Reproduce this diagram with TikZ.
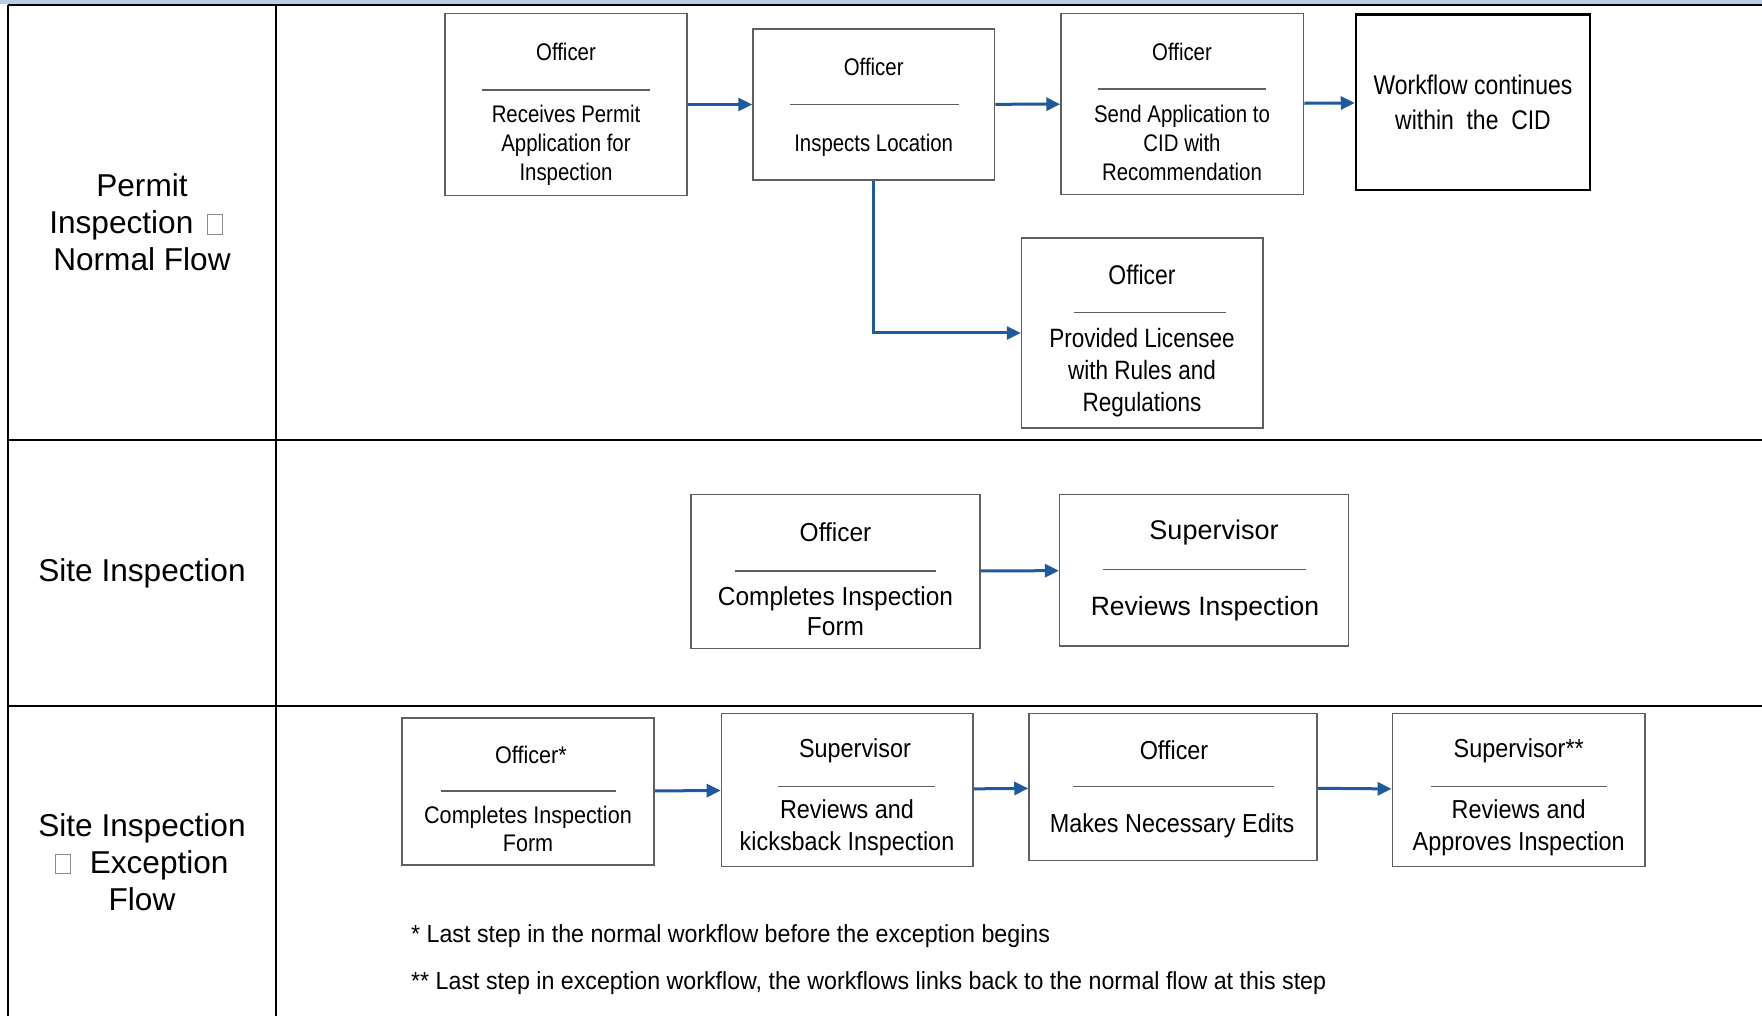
\documentclass[tikz,border=0pt]{standalone}
\usepackage{fontspec}
\setmainfont{Liberation Sans}
\newfontfamily\nfA[FakeStretch=0.85]{Liberation Sans}
\newfontfamily\nfB[FakeStretch=0.90]{Liberation Sans}
\newfontfamily\nfC[FakeStretch=0.94]{Liberation Sans}
\usetikzlibrary{arrows.meta,fit}
\definecolor{flowblue}{RGB}{31,90,158}
\definecolor{bandblue}{RGB}{184,204,228}
\definecolor{boxgray}{RGB}{95,95,95}
% empty glyph box used in the lane titles
\newcommand\tofu{\textcolor{black!45}{\fboxsep0pt\fboxrule0.9pt\fbox{\rule{0pt}{18.5pt}\hspace{13.5pt}}}}
\begin{document}
\begin{tikzpicture}[x=1pt,y=-1pt,
  grid/.style={line width=2pt, draw=black},
  stepbox/.style={draw=boxgray, line width=1.5pt, inner sep=0pt},
  endbox/.style={draw=black, line width=2.5pt, inner sep=0pt},
  divider/.style={draw=boxgray, line width=1.5pt},
  txt/.style={inner sep=0pt, align=center, text=black},
  flow/.style={draw=flowblue, line width=3pt, -{Triangle[length=14pt,width=13pt]}},
  lane/.style={inner sep=0pt, align=center, font=\fontsize{31.6}{37}\selectfont}
]
\useasboundingbox (0,0) rectangle (1762,1016);
\fill[white] (0,0) rectangle (1762,1016);

% table frame
\fill[bandblue] (0,0) rectangle (1762,3.6);
\draw[grid] (7.9,4.7) -- (1762,4.7);
\draw[grid] (7.9,4.7) -- (7.9,1016);
\draw[grid] (276,4.7) -- (276,1016);
\draw[grid] (7.9,440) -- (1762,440);
\draw[grid] (7.9,706) -- (1762,706);

% lane titles
\node[lane] (l1) at (142,222.5) {Permit\\Inspection\hspace{14pt}\tofu\rule{12pt}{0pt}\\Normal Flow};
\node[lane] (l2) at (142,573) {Site Inspection};
\node[lane] (l3) at (142,862) {Site Inspection\\\tofu\hspace{19pt}Exception\\Flow};

% permit inspection, normal flow
\node[stepbox, fit={(445,13.5) (687,195.5)}] (b1) {};
\node[txt, font=\nfA\fontsize{24}{29}\selectfont] (b1t) at (566,52) {Officer};
\draw[divider] (482,90) -- (650,90);
\node[txt, font=\nfA\fontsize{24}{29}\selectfont] (b1x) at (566,145) {Receives Permit\\Application for\\Inspection};

\node[stepbox, fit={(753,29) (994.5,180)}] (b2) {};
\node[txt, font=\nfA\fontsize{24}{29}\selectfont] (b2t) at (873.7,67.4) {Officer};
\draw[divider] (790,104.5) -- (958.5,104.5);
\node[txt, font=\nfA\fontsize{24}{29}\selectfont] (b2x) at (873.7,145) {Inspects Location};

\node[stepbox, fit={(1061,13.5) (1303.5,194.4)}] (b3) {};
\node[txt, font=\nfA\fontsize{24}{29}\selectfont] (b3t) at (1182,52) {Officer};
\draw[divider] (1098,88.8) -- (1266,88.8);
\node[txt, font=\nfA\fontsize{24}{28.6}\selectfont] (b3x) at (1182,143) {Send Application to\\CID with\\Recommendation};

\node[endbox, fit={(1356,14.6) (1590,190)}] (b4) {};
\node[txt, font=\nfA\fontsize{27}{35}\selectfont] (b4x) at (1473,102.5) {Workflow continues\\within~ the~ CID};

\node[stepbox, fit={(1021.5,238) (1263,428)}] (b5) {};
\node[txt, font=\nfA\fontsize{27}{32}\selectfont] (b5t) at (1142,275.3) {Officer};
\draw[divider] (1074,312.4) -- (1226,312.4);
\node[txt, font=\nfA\fontsize{26.5}{32}\selectfont] (b5x) at (1142,373) {Provided Licensee\\with Rules and\\Regulations};

\draw[flow] (b1) -- (b2);
\draw[flow] (b2) -- (b3);
\draw[flow] (b3) -- (b4);
\draw[flow] (b2.south) |- (b5.west);

% site inspection
\node[stepbox, fit={(691,494.4) (980,648.4)}] (c1) {};
\node[txt, font=\nfC\fontsize{26}{30.4}\selectfont] (c1t) at (835.5,532.6) {Officer};
\draw[divider] (735,570.8) -- (936,570.8);
\node[txt, font=\nfC\fontsize{26}{30.4}\selectfont] (c1x) at (835.5,611) {Completes Inspection\\Form};

\node[stepbox, fit={(1059.6,494.4) (1348.4,646)}] (c2) {};
\node[txt, font=\fontsize{27}{31}\selectfont] (c2t) at (1214,532.6) {Supervisor};
\draw[divider] (1103,569.7) -- (1306,569.7);
\node[txt, font=\fontsize{26.5}{31}\selectfont] (c2x) at (1205,609) {Reviews Inspection};

\draw[flow] (c1) -- (c2);

% site inspection, exception flow
\node[stepbox, fit={(402,718) (654,865)}] (d1) {};
\node[txt, font=\nfB\fontsize{24}{28}\selectfont] (d1t) at (531,755) {Officer*};
\draw[divider] (440.5,791) -- (616,791);
\node[txt, font=\nfB\fontsize{24}{28}\selectfont] (d1x) at (528,829) {Completes Inspection\\Form};

\node[stepbox, fit={(721.4,713.5) (973,866.4)}] (d2) {};
\node[txt, font=\nfB\fontsize{26}{31.5}\selectfont] (d2t) at (855,750.6) {Supervisor};
\draw[divider] (778,786.6) -- (935,786.6);
\node[txt, font=\nfB\fontsize{26}{31.5}\selectfont] (d2x) at (847,828) {Reviews and\\kicksback Inspection};

\node[stepbox, fit={(1029,713.5) (1317,860.7)}] (d3) {};
\node[txt, font=\nfB\fontsize{26}{31.5}\selectfont] (d3t) at (1174,750.6) {Officer};
\draw[divider] (1073,786.6) -- (1274,786.6);
\node[txt, font=\nfB\fontsize{26}{31.5}\selectfont] (d3x) at (1172,826) {Makes Necessary Edits};

\node[stepbox, fit={(1392.3,713.5) (1645,866.4)}] (d4) {};
\node[txt, font=\nfB\fontsize{26}{31.5}\selectfont] (d4t) at (1518.7,750.6) {Supervisor**};
\draw[divider] (1430.5,786.6) -- (1607,786.6);
\node[txt, font=\nfB\fontsize{26}{31.5}\selectfont] (d4x) at (1518.7,828) {Reviews and\\Approves Inspection};

\draw[flow] (d1) -- (d2);
\draw[flow] (d2) -- (d3);
\draw[flow] (d3) -- (d4);

% footnotes
\node[txt, anchor=west, font=\nfC\fontsize{24.7}{29}\selectfont] (n1) at (411,936) {* Last step in the normal workflow before the exception begins};
\node[txt, anchor=west, font=\nfC\fontsize{24.7}{29}\selectfont] (n2) at (411,983) {** Last step in exception workflow, the workflows links back to the normal flow at this step};
\end{tikzpicture}
\end{document}
